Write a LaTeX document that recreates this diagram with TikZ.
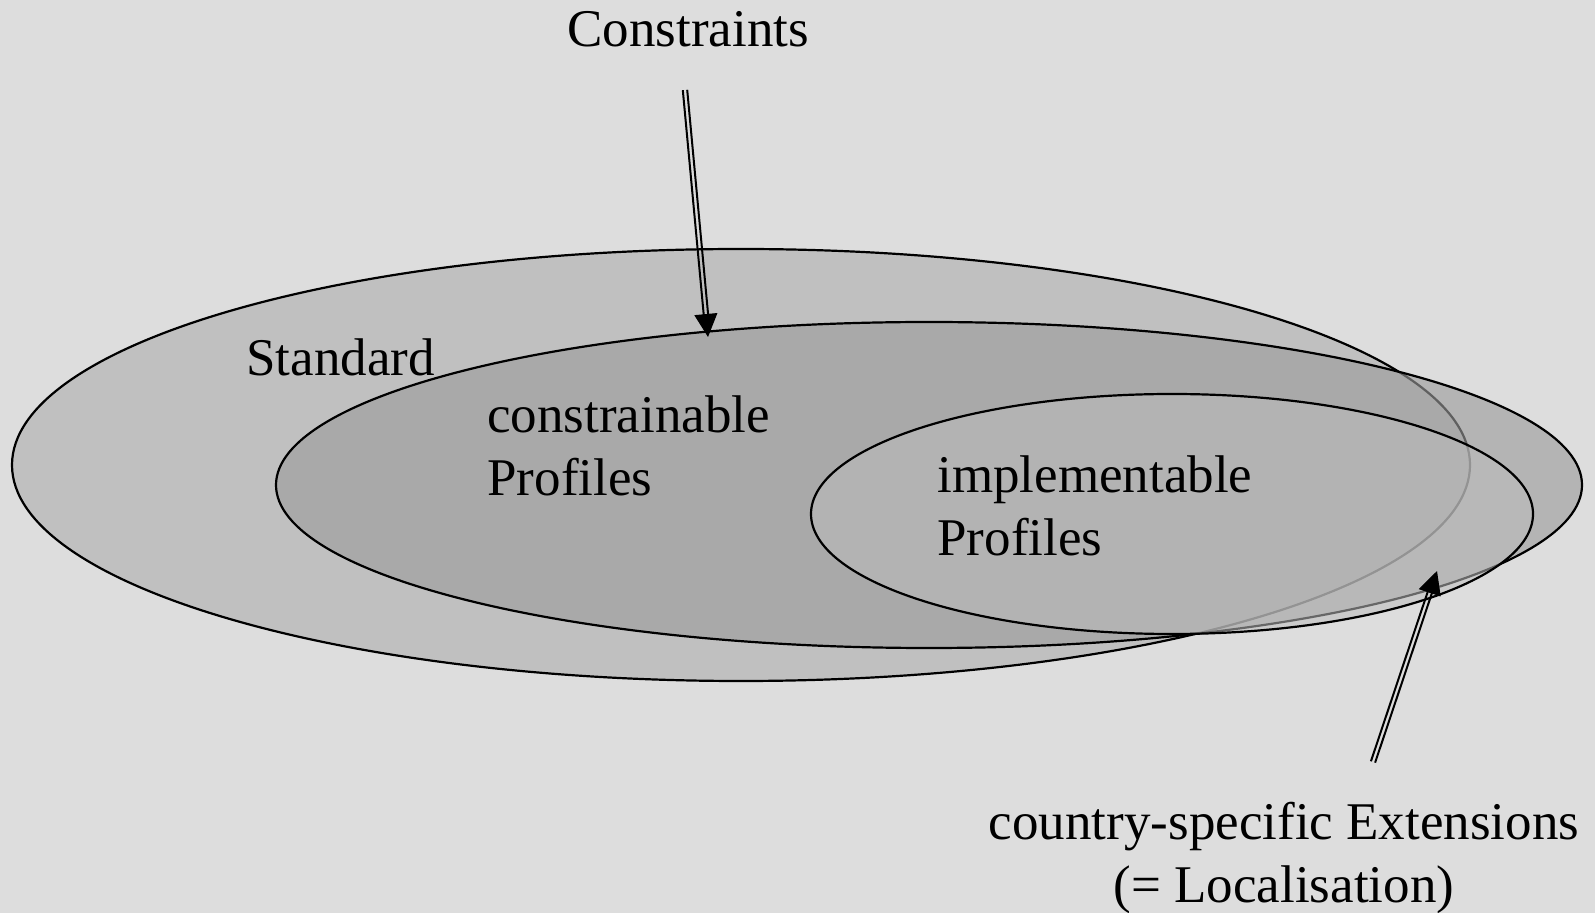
\documentclass[tikz,border=0pt]{standalone}
\usepackage{fontspec}
\setmainfont{Liberation Serif}
\usetikzlibrary{calc,arrows.meta}
\definecolor{paper}{HTML}{DDDDDD}
\definecolor{stdgray}{HTML}{C0C0C0}
\definecolor{congray}{HTML}{9B9B9B}
\definecolor{impgray}{HTML}{BDBDBD}
\tikzset{
  label/.style={inner sep=0pt, font=\fontsize{26.5}{31.5}\selectfont},
  set/.style={draw=black, line width=1.1pt},
  shaft/.style={line width=1pt},
  head/.style={line width=0.5pt, -{Triangle[length=11.5pt,width=11.5pt]}}
}
\begin{document}
\begin{tikzpicture}[x=0.5pt, y=-0.5pt]
    \fill[paper] (0,0) rectangle (1595,913);
    \useasboundingbox (0,0) rectangle (1595,913);

    % the three sets
    \filldraw[set, fill=stdgray] (741,465) ellipse [x radius=729, y radius=216];
    \filldraw[set, fill=congray, fill opacity=0.62] (929,485) ellipse [x radius=653, y radius=163];
    \filldraw[set, fill=impgray, fill opacity=0.55] (1172,514) ellipse [x radius=361, y radius=120];

    \node[label, anchor=base west] (constraints) at (567,47) {Constraints};
    \node[label, anchor=base west] (standard) at (246,376) {Standard};
    \node[label, anchor=north west, align=left] (constrainable) at (487,395) {constrainable\\Profiles};
    \node[label, anchor=north west, align=left] (implementable) at (937,455) {implementable\\Profiles};
    \node[label, anchor=north, align=center] (localisation) at (1284,802) {country-specific Extensions\\(= Localisation)};

    % double arrows
    \coordinate (cfrom) at (685,90);
    \coordinate (cto) at (708,337);
    \coordinate (lfrom) at (1373,762);
    \coordinate (lto) at (1437,571);
    \coordinate (chead) at ($(cto)!11pt!(cfrom)$);
    \coordinate (lhead) at ($(lto)!11pt!(lfrom)$);

    \draw[shaft] ($(cfrom)!1.1pt!90:(cto)$) -- ($(chead)!1.1pt!-90:(cfrom)$);
    \draw[shaft] ($(cfrom)!1.1pt!-90:(cto)$) -- ($(chead)!1.1pt!90:(cfrom)$);
    \draw[head] (chead) -- (cto);

    \draw[shaft] ($(lfrom)!1.1pt!90:(lto)$) -- ($(lhead)!1.1pt!-90:(lfrom)$);
    \draw[shaft] ($(lfrom)!1.1pt!-90:(lto)$) -- ($(lhead)!1.1pt!90:(lfrom)$);
    \draw[head] (lhead) -- (lto);
\end{tikzpicture}
\end{document}
